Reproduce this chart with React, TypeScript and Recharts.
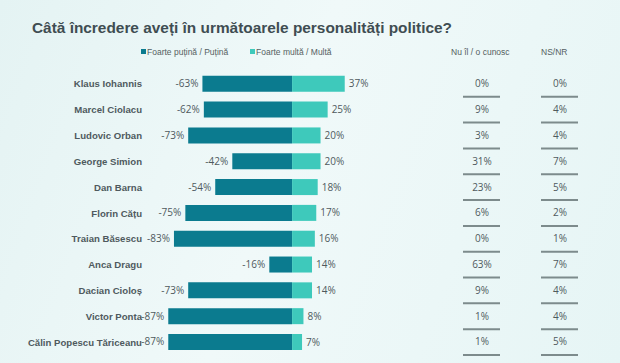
import { BarChart, Bar, XAxis, YAxis, LabelList } from "recharts"

const names = [
  "Klaus Iohannis",
  "Marcel Ciolacu",
  "Ludovic Orban",
  "George Simion",
  "Dan Barna",
  "Florin Cățu",
  "Traian Băsescu",
  "Anca Dragu",
  "Dacian Cioloș",
  "Victor Ponta",
  "Călin Popescu Tăriceanu",
]
const low = [-63, -62, -73, -42, -54, -75, -83, -16, -73, -87, -87]
const high = [37, 25, 20, 20, 18, 17, 16, 14, 14, 8, 7]
const unknown = [0, 9, 3, 31, 23, 6, 0, 63, 9, 1, 1]
const nsnr = [0, 4, 4, 7, 5, 2, 1, 7, 4, 4, 5]

const data = names.map((name, i) => ({
  name,
  low: low[i],
  high: high[i],
  unknown: unknown[i],
  nsnr: nsnr[i],
}))

const DARK = "#0b7b8f"
const LIGHT = "#3ec9bb"
const TEXT = "#4f5a5e"
const FONT = "'Liberation Sans', Arial, sans-serif"
const NUM_FONT = "'Open Sans', sans-serif"

// table column centres (px from chart left)
const COL_UNKNOWN = 482
const COL_NSNR = 560

function CategoryTick(props: any) {
  const { x, y, payload } = props
  return (
    <text x={x} y={y} dy={3.5} textAnchor="end" fontSize={9.6} fontWeight="bold" fill={TEXT} fontFamily={FONT}>
      {payload.value}
    </text>
  )
}

// negative bars have negative width, so find the real left edge
function LowLabel(props: any) {
  const { x, y, width, height, value } = props
  const left = Math.min(x, x + width)
  return (
    <text x={left - 4} y={y + height / 2} dy={3.5} textAnchor="end" fontSize={10} fill={TEXT} fontFamily={NUM_FONT}>
      {value}%
    </text>
  )
}

function tableCell(colX: number) {
  return (props: any) => {
    const { y, height, value } = props
    const cy = y + height / 2
    return (
      <g>
        <text x={colX} y={cy} dy={3.5} textAnchor="middle" fontSize={10} fill={TEXT} fontFamily={NUM_FONT}>
          {value}%
        </text>
        <line x1={colX - 19} x2={colX + 18} y1={cy + 13} y2={cy + 13} stroke="#7d8b8c" strokeWidth={2} />
      </g>
    )
  }
}

export default function App() {
  return (
    <div
      style={{
        position: "absolute",
        left: 0,
        top: 0,
        width: 620,
        height: 363,
        background: "linear-gradient(110deg, #e4f3f3 0%, #f0f9f9 45%, #e6f5f5 100%)",
        fontFamily: FONT,
      }}
    >
      <div style={{ position: "absolute", left: 32, top: 19, fontSize: 15.4, fontWeight: "bold", color: "#3f4d52" }}>
        Câtă încredere aveți în următoarele personalități politice?
      </div>
      <div style={{ position: "absolute", top: 47, left: 0, fontSize: 8.5, color: "#555f62", width: 620 }}>
        <span style={{ position: "absolute", left: 141, top: 2, width: 5, height: 5, background: DARK }} />
        <span style={{ position: "absolute", left: 147 }}>Foarte puțină / Puțină</span>
        <span style={{ position: "absolute", left: 250, top: 2, width: 5, height: 5, background: LIGHT }} />
        <span style={{ position: "absolute", left: 256 }}>Foarte multă / Multă</span>
        <span style={{ position: "absolute", left: 451 }}>Nu îl / o cunosc</span>
        <span style={{ position: "absolute", left: 541 }}>NS/NR</span>
      </div>
      <div style={{ position: "absolute", left: 0, top: 0 }}>
        <BarChart
          width={620}
          height={363}
          data={data}
          layout="vertical"
          stackOffset="sign"
          barCategoryGap={4.8}
          margin={{ top: 71, right: 271, bottom: 8, left: 8 }}
        >
          <XAxis type="number" domain={[-90, 40]} hide />
          <YAxis
            type="category"
            dataKey="name"
            width={156}
            axisLine={false}
            tickLine={false}
            tickSize={0}
            tickMargin={22}
            interval={0}
            tick={<CategoryTick />}
          />
          <Bar dataKey="low" stackId="a" fill={DARK} isAnimationActive={false}>
            <LabelList dataKey="low" content={<LowLabel />} />
          </Bar>
          <Bar dataKey="high" stackId="a" fill={LIGHT} isAnimationActive={false}>
            <LabelList
              dataKey="high"
              position="right"
              offset={4}
              formatter={(v: any) => `${v}%`}
              style={{ fontSize: 10, fill: TEXT, fontFamily: NUM_FONT }}
            />
            <LabelList dataKey="unknown" content={tableCell(COL_UNKNOWN)} />
            <LabelList dataKey="nsnr" content={tableCell(COL_NSNR)} />
          </Bar>
        </BarChart>
      </div>
    </div>
  )
}
